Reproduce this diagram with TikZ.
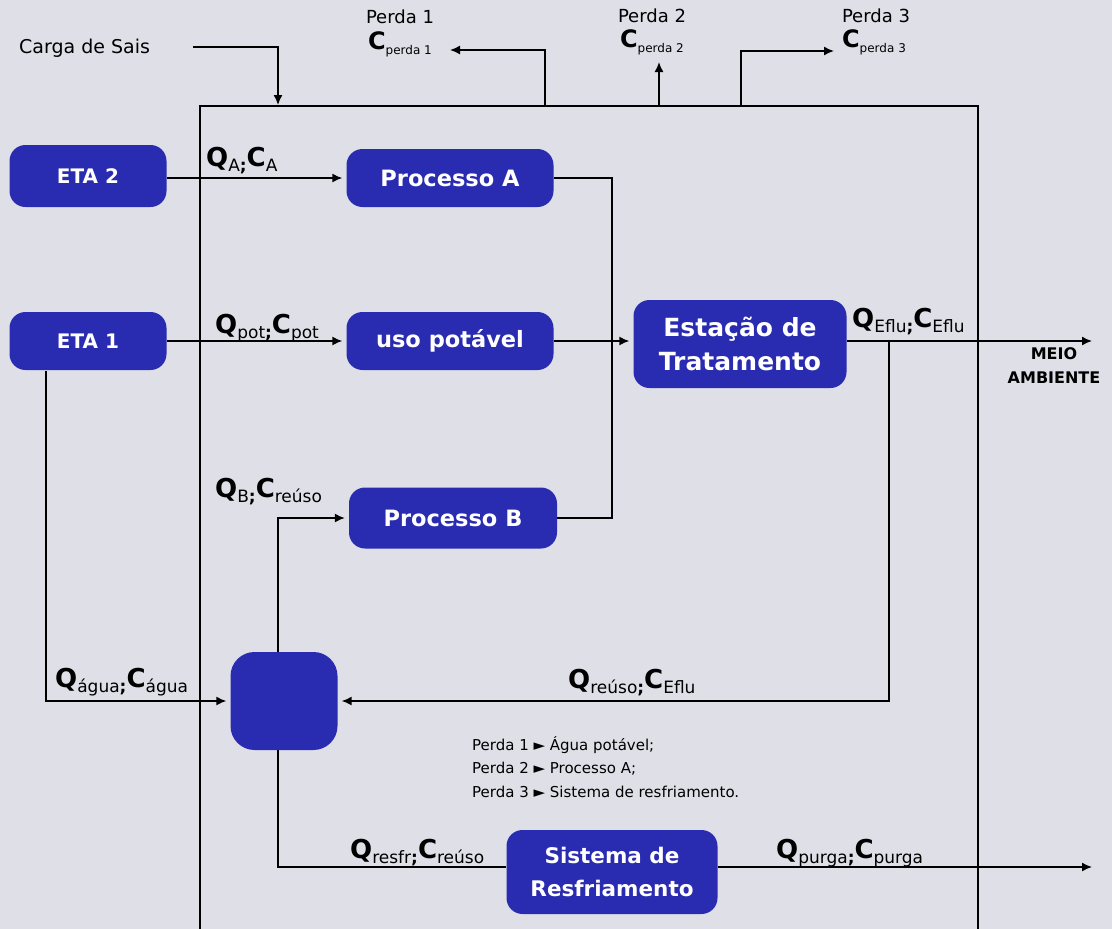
\documentclass[tikz,border=0pt]{standalone}
\usepackage{fontspec}
\setmainfont{DejaVu Sans}
\usetikzlibrary{arrows.meta,positioning}
\usepackage{color}

\definecolor{caixa}{RGB}{41,43,176}
\definecolor{fundo}{RGB}{223,223,231}

% vazao e concentracao: Q_x;C_y
\newcommand\vazao[2]{{\fontsize{26}{26}\selectfont\bfseries Q}\raisebox{-5pt}{\fontsize{17}{17}\selectfont #1{\bfseries;}}{\fontsize{26}{26}\selectfont\bfseries C}\raisebox{-5pt}{\fontsize{17}{17}\selectfont #2}}
\newcommand\cperda[1]{{\fontsize{24}{24}\selectfont\bfseries C}\raisebox{-5pt}{\fontsize{12}{12}\selectfont perda #1}}

\begin{document}
\begin{tikzpicture}[x=1pt,y=-1pt,>={Latex[length=10pt,width=9pt]}]

	\tikzstyle{unit}=[
		rectangle,
		rounded corners=16pt,
		fill=caixa,
		text=white,
		align=center,
		font=\fontsize{22.5}{33}\selectfont\bfseries
	]
	\tikzstyle{flow}=[line width=1.5pt]
	\tikzstyle{entra}=[flow, ->, shorten >=4pt]
	\tikzstyle{rot}=[inner sep=0pt, anchor=base west]
	\tikzstyle{txt}=[inner sep=0pt, font=\fontsize{18}{18}\selectfont]

	\fill[fundo] (0,0) rectangle (1112,929);
	\useasboundingbox (0,0) rectangle (1112,929);

	% volume de controle
	\draw[line width=2.2pt] (200,929) -- (200,106) -- (978,106) -- (978,929);

	\node [unit, minimum width=157pt, minimum height=62pt, font=\fontsize{20}{20}\selectfont\bfseries] (eta2) at (88,176) {ETA 2};
	\node [unit, minimum width=157pt, minimum height=58pt, font=\fontsize{20}{20}\selectfont\bfseries] (eta1) at (88,341) {ETA 1};

	\node [unit, minimum width=207pt, minimum height=58pt] (proca) at (450,178) {Processo A};
	\node [unit, minimum width=207pt, minimum height=58pt] (uso) at (450,341) {uso pot\'avel};
	\node [unit, minimum width=208pt, minimum height=61pt] (procb) at (453,518) {Processo B};

	\node [unit, minimum width=213pt, minimum height=88pt, font=\fontsize{25}{34}\selectfont\bfseries] (ete) at (740,344) {Esta\c{c}\~ao de\\Tratamento};

	\node [unit, rounded corners=24pt, minimum width=107pt, minimum height=98pt] (mix) at (284,701) {};

	\node [unit, minimum width=211pt, minimum height=84pt, font=\fontsize{21.5}{33}\selectfont\bfseries] (sist) at (612,872) {Sistema de\\Resfriamento};

	\node [inner sep=0pt, align=center, font=\fontsize{16}{24}\selectfont\bfseries] (meioamb) at (1054,366) {MEIO\\AMBIENTE};

	% pontos livres
	\coordinate (juncao) at (612,341);
	\coordinate (retorno) at (889,341);
	\coordinate (meio) at (1092,341);
	\coordinate (desce) at (46,371);
	\coordinate (saida) at (1092,867);

	\draw[entra] (eta2.east |- proca) -- (proca);
	\draw[entra] (eta1) -- (uso);
	\draw[flow] (proca.east) -| (juncao) |- (procb.east);
	\draw[entra] (uso.east) -- (uso.east -| ete.west);
	\draw[flow,->] (ete.east |- meio) -- (meio);
	\draw[entra] (retorno) |- (mix.east);
	\draw[entra] (desce) |- (mix.west);
	\draw[entra] ([xshift=-6pt]mix.north) |- (procb.west);
	\draw[flow] ([xshift=-6pt]mix.south) |- (sist.west |- saida);
	\draw[flow,->] (sist.east |- saida) -- (saida);

	% carga de sais e perdas
	\node [txt, anchor=base west, font=\fontsize{19}{19}\selectfont] (carga) at (19,53) {Carga de Sais};
	\coordinate (cargaini) at (193,47);
	\coordinate (cargafim) at (278,105);
	\draw[flow,->] (cargaini) -| (cargafim);

	\node [txt] (perda1) at (400,17) {Perda 1};
	\node [txt] (cp1) at (400,44) {\cperda{1}};
	\coordinate (p1base) at (545,106);
	\coordinate (p1fim) at (450,50);
	\draw[flow,->] (p1base) |- (p1fim);

	\node [txt] (perda2) at (652,16) {Perda 2};
	\node [txt] (cp2) at (652,42) {\cperda{2}};
	\coordinate (p2base) at (659,106);
	\coordinate (p2fim) at (659,62);
	\draw[flow,->] (p2base) -- (p2fim);

	\node [txt] (perda3) at (876,16) {Perda 3};
	\node [txt] (cp3) at (874,42) {\cperda{3}};
	\coordinate (p3base) at (741,106);
	\coordinate (p3fim) at (834,51);
	\draw[flow,->] (p3base) |- (p3fim);

	% rotulos das correntes
	\node [rot] (qa) at (206,166) {\vazao{A}{A}};
	\node [rot] (qpot) at (215,333) {\vazao{pot}{pot}};
	\node [rot] (qb) at (215,497) {\vazao{B}{re\'uso}};
	\node [rot] (qeflu) at (852,327) {\vazao{Eflu}{Eflu}};
	\node [rot] (qagua) at (55,687) {\vazao{\'agua}{\'agua}};
	\node [rot] (qreuso) at (568,688) {\vazao{re\'uso}{Eflu}};
	\node [rot] (qresfr) at (350,858) {\vazao{resfr}{re\'uso}};
	\node [rot] (qpurga) at (776,858) {\vazao{purga}{purga}};

	\node [inner sep=0pt, anchor=north west, align=left, font=\fontsize{15}{23.5}\selectfont] (legenda) at (472,736) {Perda 1 ► \'Agua pot\'avel;\\Perda 2 ► Processo A;\\Perda 3 ► Sistema de resfriamento.};

\end{tikzpicture}
\end{document}
